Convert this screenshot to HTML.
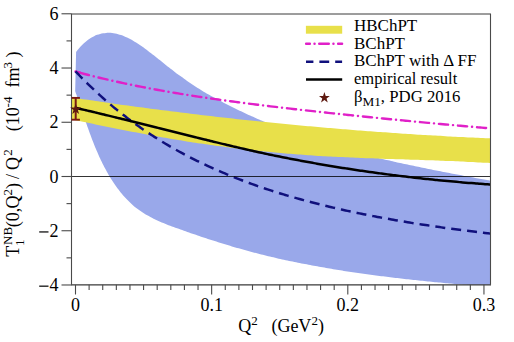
<!DOCTYPE html><html><head><meta charset="utf-8"><style>html,body{margin:0;padding:0;background:#fff;}body{width:514px;height:342px;overflow:hidden;position:relative;font-family:"Liberation Serif",serif;}</style></head><body><svg width="514" height="342" viewBox="0 0 514 342" style="position:absolute;left:0;top:0;font-family:'Liberation Serif',serif;">
<defs><clipPath id="cp"><rect x="71.50" y="13.90" width="419.00" height="270.95"/></clipPath></defs>
<rect x="0" y="0" width="514" height="342" fill="#fff"/>
<g clip-path="url(#cp)">
<path d="M76.10,51.96 C76.60,51.35 78.10,49.45 79.10,48.30 C80.10,47.16 81.10,46.08 82.10,45.08 C83.10,44.07 84.10,43.14 85.10,42.27 C86.10,41.40 87.10,40.60 88.10,39.86 C89.10,39.12 90.10,38.45 91.10,37.83 C92.10,37.22 93.10,36.67 94.10,36.17 C95.10,35.68 96.10,35.24 97.10,34.86 C98.10,34.48 99.10,34.16 100.10,33.89 C101.10,33.62 102.10,33.40 103.10,33.23 C104.10,33.06 105.10,32.95 106.10,32.88 C107.10,32.81 108.10,32.79 109.10,32.82 C110.10,32.84 111.10,32.91 112.10,33.02 C113.10,33.14 114.10,33.29 115.10,33.49 C116.10,33.68 117.10,33.92 118.10,34.19 C119.10,34.46 120.10,34.77 121.10,35.12 C122.10,35.46 123.10,35.84 124.10,36.25 C125.10,36.66 126.10,37.11 127.10,37.58 C128.10,38.05 129.10,38.56 130.10,39.09 C131.10,39.61 132.10,40.17 133.10,40.75 C134.10,41.33 135.10,41.94 136.10,42.56 C137.10,43.19 138.10,43.84 139.10,44.50 C140.10,45.17 141.10,45.85 142.10,46.55 C143.10,47.25 144.10,47.97 145.10,48.70 C146.10,49.43 147.10,50.18 148.10,50.93 C149.10,51.69 150.10,52.46 151.10,53.23 C152.10,54.01 153.10,54.79 154.10,55.58 C155.10,56.37 156.10,57.16 157.10,57.96 C158.10,58.75 159.10,59.56 160.10,60.36 C161.10,61.16 162.10,61.96 163.10,62.76 C164.10,63.56 165.10,64.35 166.10,65.14 C167.10,65.94 168.10,66.72 169.10,67.51 C170.10,68.29 171.10,69.07 172.10,69.84 C173.10,70.61 174.10,71.38 175.10,72.14 C176.10,72.90 177.10,73.65 178.10,74.40 C179.10,75.14 180.10,75.88 181.10,76.61 C182.10,77.34 183.10,78.07 184.10,78.78 C185.10,79.50 186.10,80.20 187.10,80.90 C188.10,81.59 189.10,82.28 190.10,82.96 C191.10,83.63 192.10,84.30 193.10,84.96 C194.10,85.62 195.10,86.27 196.10,86.91 C197.10,87.55 198.10,88.18 199.10,88.81 C200.10,89.43 201.10,90.05 202.10,90.65 C203.10,91.26 204.10,91.86 205.10,92.45 C206.10,93.05 207.10,93.63 208.10,94.21 C209.10,94.79 210.10,95.36 211.10,95.93 C212.10,96.49 213.10,97.05 214.10,97.61 C215.10,98.16 216.10,98.71 217.10,99.25 C218.10,99.79 219.10,100.32 220.10,100.85 C221.10,101.38 222.10,101.91 223.10,102.43 C224.10,102.95 225.10,103.47 226.10,103.98 C227.10,104.49 228.10,104.99 229.10,105.50 C230.10,106.00 231.10,106.50 232.10,107.00 C233.10,107.49 234.10,107.98 235.10,108.47 C236.10,108.96 237.10,109.44 238.10,109.92 C239.10,110.40 240.10,110.88 241.10,111.35 C242.10,111.83 243.10,112.30 244.10,112.76 C245.10,113.23 246.10,113.69 247.10,114.15 C248.10,114.61 249.10,115.07 250.10,115.52 C251.10,115.97 252.10,116.42 253.10,116.87 C254.10,117.31 255.10,117.75 256.10,118.19 C257.10,118.63 258.10,119.07 259.10,119.50 C260.10,119.93 261.10,120.36 262.10,120.78 C263.10,121.21 264.10,121.63 265.10,122.05 C266.10,122.47 267.10,122.89 268.10,123.30 C269.10,123.71 270.10,124.12 271.10,124.53 C272.10,124.93 273.10,125.33 274.10,125.73 C275.10,126.13 276.10,126.53 277.10,126.92 C278.10,127.32 279.10,127.71 280.10,128.10 C281.10,128.48 282.10,128.87 283.10,129.25 C284.10,129.63 285.10,130.01 286.10,130.39 C287.10,130.76 288.10,131.14 289.10,131.51 C290.10,131.88 291.10,132.24 292.10,132.61 C293.10,132.97 294.10,133.33 295.10,133.69 C296.10,134.05 297.10,134.41 298.10,134.76 C299.10,135.11 300.10,135.46 301.10,135.81 C302.10,136.16 303.10,136.50 304.10,136.84 C305.10,137.19 306.10,137.53 307.10,137.86 C308.10,138.20 309.10,138.54 310.10,138.87 C311.10,139.20 312.10,139.53 313.10,139.86 C314.10,140.18 315.10,140.51 316.10,140.83 C317.10,141.15 318.10,141.47 319.10,141.79 C320.10,142.10 321.10,142.42 322.10,142.73 C323.10,143.04 324.10,143.35 325.10,143.66 C326.10,143.97 327.10,144.27 328.10,144.58 C329.10,144.88 330.10,145.18 331.10,145.48 C332.10,145.78 333.10,146.07 334.10,146.37 C335.10,146.66 336.10,146.95 337.10,147.24 C338.10,147.53 339.10,147.82 340.10,148.10 C341.10,148.39 342.10,148.67 343.10,148.95 C344.10,149.23 345.10,149.51 346.10,149.79 C347.10,150.07 348.10,150.34 349.10,150.61 C350.10,150.89 351.10,151.16 352.10,151.43 C353.10,151.70 354.10,151.96 355.10,152.23 C356.10,152.49 357.10,152.76 358.10,153.02 C359.10,153.28 360.10,153.54 361.10,153.80 C362.10,154.06 363.10,154.31 364.10,154.57 C365.10,154.82 366.10,155.07 367.10,155.32 C368.10,155.58 369.10,155.82 370.10,156.07 C371.10,156.32 372.10,156.57 373.10,156.81 C374.10,157.05 375.10,157.30 376.10,157.54 C377.10,157.78 378.10,158.02 379.10,158.26 C380.10,158.49 381.10,158.73 382.10,158.97 C383.10,159.20 384.10,159.43 385.10,159.67 C386.10,159.90 387.10,160.13 388.10,160.36 C389.10,160.59 390.10,160.82 391.10,161.04 C392.10,161.27 393.10,161.49 394.10,161.72 C395.10,161.94 396.10,162.16 397.10,162.38 C398.10,162.61 399.10,162.83 400.10,163.04 C401.10,163.26 402.10,163.48 403.10,163.70 C404.10,163.91 405.10,164.13 406.10,164.34 C407.10,164.56 408.10,164.77 409.10,164.98 C410.10,165.19 411.10,165.41 412.10,165.62 C413.10,165.83 414.10,166.03 415.10,166.24 C416.10,166.45 417.10,166.66 418.10,166.86 C419.10,167.07 420.10,167.27 421.10,167.48 C422.10,167.68 423.10,167.89 424.10,168.09 C425.10,168.29 426.10,168.49 427.10,168.69 C428.10,168.89 429.10,169.09 430.10,169.29 C431.10,169.49 432.10,169.69 433.10,169.89 C434.10,170.08 435.10,170.28 436.10,170.48 C437.10,170.67 438.10,170.87 439.10,171.06 C440.10,171.26 441.10,171.45 442.10,171.65 C443.10,171.84 444.10,172.03 445.10,172.23 C446.10,172.42 447.10,172.61 448.10,172.80 C449.10,172.99 450.10,173.19 451.10,173.38 C452.10,173.57 453.10,173.76 454.10,173.95 C455.10,174.14 456.10,174.33 457.10,174.52 C458.10,174.70 459.10,174.89 460.10,175.08 C461.10,175.27 462.10,175.46 463.10,175.65 C464.10,175.83 465.10,176.02 466.10,176.21 C467.10,176.40 468.10,176.58 469.10,176.77 C470.10,176.96 471.10,177.14 472.10,177.33 C473.10,177.52 474.10,177.70 475.10,177.89 C476.10,178.08 477.10,178.26 478.10,178.45 C479.10,178.63 480.10,178.82 481.10,179.01 C482.10,179.19 483.10,179.38 484.10,179.57 C485.10,179.75 486.10,179.94 487.10,180.12 C488.10,180.31 489.55,180.58 490.10,180.68 C490.65,180.79 490.35,180.73 490.40,180.74 L490.32,286.94 C489.73,286.89 487.95,286.75 486.76,286.65 C485.57,286.55 484.38,286.45 483.20,286.35 C482.01,286.26 480.82,286.16 479.63,286.06 C478.44,285.96 477.25,285.86 476.06,285.76 C474.88,285.66 473.69,285.56 472.50,285.45 C471.31,285.35 470.12,285.25 468.93,285.15 C467.74,285.05 466.55,284.94 465.36,284.84 C464.17,284.74 462.98,284.63 461.79,284.53 C460.60,284.42 459.40,284.32 458.21,284.21 C457.02,284.11 455.83,284.00 454.64,283.89 C453.45,283.78 452.26,283.68 451.06,283.57 C449.87,283.46 448.68,283.35 447.49,283.24 C446.30,283.13 445.11,283.02 443.91,282.91 C442.72,282.80 441.53,282.68 440.34,282.57 C439.14,282.46 437.95,282.34 436.76,282.23 C435.57,282.11 434.37,282.00 433.18,281.88 C431.99,281.77 430.80,281.65 429.60,281.53 C428.41,281.41 427.22,281.29 426.03,281.17 C424.83,281.05 423.64,280.93 422.45,280.81 C421.25,280.68 420.06,280.56 418.87,280.44 C417.68,280.31 416.48,280.19 415.29,280.06 C414.10,279.93 412.90,279.81 411.71,279.68 C410.52,279.55 409.33,279.42 408.13,279.29 C406.94,279.16 405.75,279.03 404.56,278.89 C403.36,278.76 402.17,278.62 400.98,278.49 C399.79,278.35 398.60,278.22 397.40,278.08 C396.21,277.94 395.02,277.80 393.83,277.66 C392.64,277.52 391.45,277.38 390.25,277.23 C389.06,277.09 387.87,276.95 386.68,276.80 C385.49,276.65 384.30,276.51 383.11,276.36 C381.92,276.21 380.73,276.06 379.54,275.91 C378.35,275.75 377.16,275.60 375.97,275.45 C374.78,275.29 373.59,275.14 372.40,274.98 C371.21,274.82 370.02,274.66 368.83,274.50 C367.64,274.34 366.45,274.18 365.26,274.01 C364.07,273.85 362.89,273.68 361.70,273.52 C360.51,273.35 359.32,273.18 358.13,273.01 C356.95,272.84 355.76,272.67 354.57,272.49 C353.39,272.32 352.20,272.14 351.01,271.97 C349.83,271.79 348.64,271.61 347.46,271.43 C346.27,271.25 345.09,271.07 343.90,270.88 C342.72,270.70 341.53,270.51 340.35,270.32 C339.17,270.13 337.98,269.94 336.80,269.75 C335.62,269.56 334.43,269.37 333.25,269.17 C332.07,268.98 330.89,268.78 329.71,268.58 C328.52,268.38 327.34,268.18 326.16,267.97 C324.98,267.77 323.80,267.56 322.62,267.36 C321.44,267.15 320.26,266.94 319.08,266.73 C317.91,266.52 316.73,266.30 315.55,266.09 C314.37,265.87 313.20,265.65 312.02,265.43 C310.84,265.21 309.67,264.99 308.49,264.77 C307.32,264.54 306.14,264.31 304.97,264.09 C303.79,263.86 302.62,263.63 301.44,263.39 C300.27,263.16 299.10,262.92 297.93,262.68 C296.75,262.45 295.58,262.21 294.41,261.96 C293.24,261.72 292.07,261.48 290.90,261.23 C289.73,260.98 288.56,260.73 287.39,260.48 C286.22,260.23 285.06,259.97 283.89,259.72 C282.72,259.46 281.55,259.20 280.39,258.94 C279.22,258.68 278.06,258.41 276.89,258.14 C275.73,257.88 274.56,257.61 273.40,257.34 C272.24,257.06 271.08,256.79 269.91,256.51 C268.75,256.24 267.59,255.96 266.43,255.67 C265.27,255.39 264.11,255.11 262.95,254.82 C261.79,254.53 260.64,254.24 259.48,253.95 C258.32,253.65 257.17,253.36 256.01,253.06 C254.85,252.76 253.70,252.46 252.55,252.16 C251.39,251.85 250.24,251.55 249.09,251.24 C247.93,250.93 246.78,250.61 245.63,250.30 C244.48,249.98 243.33,249.67 242.18,249.34 C241.03,249.02 239.88,248.70 238.74,248.37 C237.59,248.05 236.44,247.72 235.30,247.38 C234.15,247.05 233.01,246.72 231.86,246.38 C230.72,246.04 229.57,245.70 228.43,245.36 C227.29,245.01 226.14,244.67 225.00,244.32 C223.86,243.97 222.72,243.62 221.58,243.26 C220.43,242.91 219.29,242.55 218.15,242.20 C217.01,241.84 215.87,241.47 214.73,241.11 C213.59,240.75 212.45,240.38 211.31,240.01 C210.17,239.64 209.03,239.27 207.89,238.90 C206.75,238.53 205.61,238.15 204.47,237.77 C203.33,237.39 202.19,237.01 201.05,236.63 C199.91,236.25 198.77,235.86 197.63,235.48 C196.49,235.09 195.35,234.70 194.21,234.31 C193.07,233.92 191.93,233.53 190.78,233.13 C189.64,232.74 188.50,232.34 187.36,231.94 C186.22,231.54 185.07,231.14 183.93,230.74 C182.79,230.33 181.64,229.93 180.50,229.52 C179.35,229.11 178.21,228.71 177.06,228.29 C175.92,227.88 174.77,227.47 173.63,227.05 C172.49,226.63 171.35,226.21 170.21,225.78 C169.07,225.35 167.94,224.91 166.81,224.47 C165.68,224.02 164.55,223.57 163.43,223.11 C162.31,222.65 161.20,222.19 160.09,221.71 C158.99,221.23 157.89,220.74 156.79,220.23 C155.70,219.73 154.62,219.22 153.55,218.69 C152.48,218.16 151.41,217.62 150.36,217.06 C149.31,216.51 148.27,215.94 147.24,215.35 C146.22,214.76 145.20,214.16 144.20,213.53 C143.20,212.91 142.21,212.27 141.24,211.61 C140.27,210.95 139.31,210.27 138.37,209.57 C137.43,208.87 136.50,208.15 135.59,207.42 C134.68,206.68 133.78,205.93 132.90,205.16 C132.02,204.39 131.15,203.60 130.29,202.79 C129.44,201.99 128.60,201.17 127.77,200.33 C126.95,199.50 126.13,198.65 125.33,197.78 C124.53,196.91 123.75,196.03 122.97,195.14 C122.20,194.24 121.44,193.34 120.69,192.42 C119.94,191.49 119.21,190.56 118.49,189.61 C117.76,188.67 117.05,187.71 116.36,186.74 C115.66,185.77 114.97,184.79 114.30,183.80 C113.62,182.81 112.96,181.81 112.30,180.80 C111.65,179.79 111.01,178.77 110.38,177.75 C109.75,176.72 109.13,175.68 108.52,174.64 C107.91,173.59 107.32,172.54 106.73,171.48 C106.14,170.42 105.56,169.36 104.99,168.29 C104.43,167.22 103.87,166.14 103.32,165.05 C102.77,163.97 102.23,162.88 101.70,161.79 C101.17,160.70 100.65,159.60 100.14,158.51 C99.62,157.41 99.12,156.30 98.63,155.20 C98.13,154.09 97.64,152.98 97.17,151.87 C96.69,150.76 96.22,149.65 95.75,148.54 C95.29,147.42 94.83,146.31 94.38,145.19 C93.93,144.07 93.49,142.95 93.05,141.83 C92.61,140.71 92.18,139.58 91.75,138.46 C91.33,137.33 90.91,136.21 90.49,135.08 C90.07,133.95 89.66,132.83 89.25,131.70 C88.84,130.57 88.44,129.44 88.04,128.31 C87.64,127.18 87.24,126.05 86.85,124.92 C86.45,123.79 86.06,122.66 85.67,121.53 C85.28,120.40 84.89,119.27 84.51,118.14 C84.12,117.01 83.73,115.88 83.35,114.75 C82.97,113.62 82.58,112.49 82.20,111.36 C81.82,110.24 81.43,109.11 81.05,107.98 C80.67,106.86 80.28,105.73 79.90,104.61 C79.51,103.48 79.13,102.36 78.74,101.24 C78.35,100.12 77.96,99.00 77.57,97.88 C77.18,96.77 76.79,95.65 76.39,94.54 C75.99,93.42 75.39,91.76 75.19,91.20 Z" fill="#99a8ea"/>
<path d="M70.50,97.37 C71.33,97.50 73.83,97.87 75.50,98.13 C77.17,98.38 78.83,98.63 80.50,98.87 C82.17,99.12 83.83,99.37 85.50,99.62 C87.17,99.86 88.83,100.11 90.50,100.35 C92.17,100.60 93.83,100.84 95.50,101.08 C97.17,101.32 98.83,101.56 100.50,101.80 C102.17,102.04 103.83,102.28 105.50,102.52 C107.17,102.76 108.83,102.99 110.50,103.23 C112.17,103.46 113.83,103.70 115.50,103.93 C117.17,104.17 118.83,104.40 120.50,104.63 C122.17,104.86 123.83,105.09 125.50,105.32 C127.17,105.55 128.83,105.78 130.50,106.00 C132.17,106.23 133.83,106.46 135.50,106.68 C137.17,106.91 138.83,107.13 140.50,107.35 C142.17,107.58 143.83,107.80 145.50,108.02 C147.17,108.24 148.83,108.46 150.50,108.68 C152.17,108.89 153.83,109.11 155.50,109.33 C157.17,109.54 158.83,109.76 160.50,109.97 C162.17,110.19 163.83,110.40 165.50,110.61 C167.17,110.82 168.83,111.04 170.50,111.25 C172.17,111.46 173.83,111.66 175.50,111.87 C177.17,112.08 178.83,112.29 180.50,112.49 C182.17,112.70 183.83,112.90 185.50,113.10 C187.17,113.31 188.83,113.51 190.50,113.71 C192.17,113.91 193.83,114.11 195.50,114.31 C197.17,114.51 198.83,114.71 200.50,114.91 C202.17,115.10 203.83,115.30 205.50,115.49 C207.17,115.69 208.83,115.88 210.50,116.08 C212.17,116.27 213.83,116.46 215.50,116.65 C217.17,116.84 218.83,117.03 220.50,117.22 C222.17,117.41 223.83,117.59 225.50,117.78 C227.17,117.97 228.83,118.15 230.50,118.34 C232.17,118.52 233.83,118.70 235.50,118.89 C237.17,119.07 238.83,119.25 240.50,119.43 C242.17,119.61 243.83,119.79 245.50,119.96 C247.17,120.14 248.83,120.32 250.50,120.49 C252.17,120.67 253.83,120.84 255.50,121.02 C257.17,121.19 258.83,121.36 260.50,121.54 C262.17,121.71 263.83,121.88 265.50,122.05 C267.17,122.21 268.83,122.38 270.50,122.55 C272.17,122.72 273.83,122.88 275.50,123.05 C277.17,123.21 278.83,123.38 280.50,123.54 C282.17,123.70 283.83,123.86 285.50,124.02 C287.17,124.18 288.83,124.34 290.50,124.50 C292.17,124.66 293.83,124.82 295.50,124.97 C297.17,125.13 298.83,125.29 300.50,125.44 C302.17,125.59 303.83,125.75 305.50,125.90 C307.17,126.05 308.83,126.20 310.50,126.35 C312.17,126.50 313.83,126.65 315.50,126.80 C317.17,126.95 318.83,127.09 320.50,127.24 C322.17,127.38 323.83,127.53 325.50,127.67 C327.17,127.82 328.83,127.96 330.50,128.10 C332.17,128.24 333.83,128.38 335.50,128.52 C337.17,128.66 338.83,128.80 340.50,128.93 C342.17,129.07 343.83,129.21 345.50,129.34 C347.17,129.48 348.83,129.61 350.50,129.74 C352.17,129.88 353.83,130.01 355.50,130.14 C357.17,130.27 358.83,130.40 360.50,130.53 C362.17,130.66 363.83,130.78 365.50,130.91 C367.17,131.04 368.83,131.16 370.50,131.28 C372.17,131.41 373.83,131.53 375.50,131.65 C377.17,131.78 378.83,131.90 380.50,132.02 C382.17,132.14 383.83,132.26 385.50,132.37 C387.17,132.49 388.83,132.61 390.50,132.72 C392.17,132.84 393.83,132.95 395.50,133.07 C397.17,133.18 398.83,133.29 400.50,133.40 C402.17,133.52 403.83,133.63 405.50,133.73 C407.17,133.84 408.83,133.95 410.50,134.06 C412.17,134.17 413.83,134.27 415.50,134.38 C417.17,134.48 418.83,134.59 420.50,134.69 C422.17,134.79 423.83,134.89 425.50,134.99 C427.17,135.09 428.83,135.19 430.50,135.29 C432.17,135.39 433.83,135.49 435.50,135.58 C437.17,135.68 438.83,135.78 440.50,135.87 C442.17,135.96 443.83,136.06 445.50,136.15 C447.17,136.24 448.83,136.33 450.50,136.42 C452.17,136.51 453.83,136.60 455.50,136.69 C457.17,136.78 458.83,136.86 460.50,136.95 C462.17,137.03 463.83,137.12 465.50,137.20 C467.17,137.29 468.83,137.37 470.50,137.45 C472.17,137.53 473.83,137.61 475.50,137.69 C477.17,137.77 478.83,137.85 480.50,137.93 C482.17,138.00 483.85,138.08 485.50,138.15 C487.15,138.23 489.58,138.33 490.40,138.37 L490.40,163.19 C489.58,163.13 487.15,162.97 485.50,162.86 C483.85,162.76 482.17,162.65 480.50,162.55 C478.83,162.45 477.17,162.36 475.50,162.26 C473.83,162.17 472.17,162.08 470.50,162.00 C468.83,161.91 467.17,161.82 465.50,161.74 C463.83,161.66 462.17,161.58 460.50,161.51 C458.83,161.43 457.17,161.36 455.50,161.28 C453.83,161.21 452.17,161.14 450.50,161.08 C448.83,161.01 447.17,160.94 445.50,160.88 C443.83,160.81 442.17,160.75 440.50,160.69 C438.83,160.63 437.17,160.57 435.50,160.51 C433.83,160.45 432.17,160.39 430.50,160.33 C428.83,160.28 427.17,160.22 425.50,160.17 C423.83,160.11 422.17,160.06 420.50,160.00 C418.83,159.95 417.17,159.90 415.50,159.84 C413.83,159.79 412.17,159.74 410.50,159.69 C408.83,159.63 407.17,159.58 405.50,159.53 C403.83,159.48 402.17,159.42 400.50,159.37 C398.83,159.32 397.17,159.26 395.50,159.21 C393.83,159.16 392.17,159.10 390.50,159.05 C388.83,158.99 387.17,158.94 385.50,158.88 C383.83,158.82 382.17,158.77 380.50,158.71 C378.83,158.65 377.17,158.59 375.50,158.53 C373.83,158.47 372.17,158.41 370.50,158.35 C368.83,158.28 367.17,158.22 365.50,158.16 C363.83,158.09 362.17,158.02 360.50,157.95 C358.83,157.89 357.17,157.82 355.50,157.74 C353.83,157.67 352.17,157.60 350.50,157.52 C348.83,157.45 347.17,157.37 345.50,157.29 C343.83,157.21 342.17,157.13 340.50,157.05 C338.83,156.97 337.17,156.88 335.50,156.79 C333.83,156.71 332.17,156.62 330.50,156.53 C328.83,156.43 327.17,156.34 325.50,156.24 C323.83,156.15 322.17,156.05 320.50,155.95 C318.83,155.84 317.17,155.74 315.50,155.63 C313.83,155.53 312.17,155.42 310.50,155.30 C308.83,155.19 307.17,155.08 305.50,154.96 C303.83,154.84 302.17,154.72 300.50,154.60 C298.83,154.48 297.17,154.35 295.50,154.22 C293.83,154.09 292.17,153.96 290.50,153.83 C288.83,153.69 287.17,153.55 285.50,153.41 C283.83,153.27 282.17,153.13 280.50,152.98 C278.83,152.84 277.17,152.69 275.50,152.53 C273.83,152.38 272.17,152.22 270.50,152.07 C268.83,151.91 267.17,151.74 265.50,151.58 C263.83,151.41 262.17,151.24 260.50,151.07 C258.83,150.90 257.17,150.73 255.50,150.55 C253.83,150.37 252.17,150.19 250.50,150.00 C248.83,149.82 247.17,149.63 245.50,149.44 C243.83,149.25 242.17,149.05 240.50,148.85 C238.83,148.66 237.17,148.45 235.50,148.25 C233.83,148.05 232.17,147.84 230.50,147.63 C228.83,147.42 227.17,147.20 225.50,146.98 C223.83,146.77 222.17,146.55 220.50,146.32 C218.83,146.10 217.17,145.87 215.50,145.64 C213.83,145.41 212.17,145.18 210.50,144.94 C208.83,144.70 207.17,144.46 205.50,144.22 C203.83,143.98 202.17,143.73 200.50,143.48 C198.83,143.23 197.17,142.98 195.50,142.72 C193.83,142.47 192.17,142.21 190.50,141.95 C188.83,141.69 187.17,141.42 185.50,141.16 C183.83,140.89 182.17,140.62 180.50,140.35 C178.83,140.07 177.17,139.80 175.50,139.52 C173.83,139.24 172.17,138.96 170.50,138.67 C168.83,138.39 167.17,138.10 165.50,137.81 C163.83,137.52 162.17,137.23 160.50,136.94 C158.83,136.64 157.17,136.34 155.50,136.05 C153.83,135.75 152.17,135.44 150.50,135.14 C148.83,134.83 147.17,134.53 145.50,134.22 C143.83,133.91 142.17,133.60 140.50,133.28 C138.83,132.97 137.17,132.66 135.50,132.34 C133.83,132.02 132.17,131.70 130.50,131.38 C128.83,131.06 127.17,130.73 125.50,130.41 C123.83,130.08 122.17,129.76 120.50,129.43 C118.83,129.10 117.17,128.77 115.50,128.44 C113.83,128.11 112.17,127.77 110.50,127.44 C108.83,127.11 107.17,126.77 105.50,126.43 C103.83,126.10 102.17,125.76 100.50,125.42 C98.83,125.08 97.17,124.74 95.50,124.40 C93.83,124.06 92.17,123.72 90.50,123.37 C88.83,123.03 87.17,122.69 85.50,122.34 C83.83,122.00 82.17,121.65 80.50,121.31 C78.83,120.97 77.17,120.62 75.50,120.28 C73.83,119.93 71.33,119.41 70.50,119.24 Z" fill="#e8e04a"/>
<path d="M75.50,71.58 C76.33,71.80 78.83,72.48 80.50,72.92 C82.17,73.37 83.83,73.80 85.50,74.23 C87.17,74.67 88.83,75.09 90.50,75.51 C92.17,75.93 93.83,76.35 95.50,76.76 C97.17,77.17 98.83,77.57 100.50,77.97 C102.17,78.37 103.83,78.76 105.50,79.15 C107.17,79.54 108.83,79.92 110.50,80.30 C112.17,80.68 113.83,81.06 115.50,81.43 C117.17,81.80 118.83,82.16 120.50,82.52 C122.17,82.88 123.83,83.24 125.50,83.59 C127.17,83.94 128.83,84.29 130.50,84.64 C132.17,84.98 133.83,85.32 135.50,85.65 C137.17,85.99 138.83,86.32 140.50,86.65 C142.17,86.97 143.83,87.30 145.50,87.62 C147.17,87.94 148.83,88.25 150.50,88.56 C152.17,88.88 153.83,89.18 155.50,89.49 C157.17,89.79 158.83,90.10 160.50,90.39 C162.17,90.69 163.83,90.99 165.50,91.28 C167.17,91.57 168.83,91.86 170.50,92.14 C172.17,92.43 173.83,92.71 175.50,92.99 C177.17,93.27 178.83,93.54 180.50,93.81 C182.17,94.09 183.83,94.36 185.50,94.62 C187.17,94.89 188.83,95.16 190.50,95.42 C192.17,95.68 193.83,95.94 195.50,96.19 C197.17,96.45 198.83,96.70 200.50,96.96 C202.17,97.21 203.83,97.46 205.50,97.70 C207.17,97.95 208.83,98.19 210.50,98.44 C212.17,98.68 213.83,98.92 215.50,99.15 C217.17,99.39 218.83,99.63 220.50,99.86 C222.17,100.09 223.83,100.33 225.50,100.55 C227.17,100.78 228.83,101.01 230.50,101.24 C232.17,101.46 233.83,101.68 235.50,101.91 C237.17,102.13 238.83,102.35 240.50,102.57 C242.17,102.78 243.83,103.00 245.50,103.22 C247.17,103.43 248.83,103.64 250.50,103.86 C252.17,104.07 253.83,104.28 255.50,104.49 C257.17,104.69 258.83,104.90 260.50,105.11 C262.17,105.31 263.83,105.52 265.50,105.72 C267.17,105.92 268.83,106.12 270.50,106.32 C272.17,106.52 273.83,106.72 275.50,106.92 C277.17,107.12 278.83,107.32 280.50,107.51 C282.17,107.71 283.83,107.90 285.50,108.09 C287.17,108.29 288.83,108.48 290.50,108.67 C292.17,108.86 293.83,109.05 295.50,109.24 C297.17,109.43 298.83,109.62 300.50,109.81 C302.17,109.99 303.83,110.18 305.50,110.36 C307.17,110.55 308.83,110.73 310.50,110.92 C312.17,111.10 313.83,111.28 315.50,111.47 C317.17,111.65 318.83,111.83 320.50,112.01 C322.17,112.19 323.83,112.37 325.50,112.55 C327.17,112.73 328.83,112.91 330.50,113.08 C332.17,113.26 333.83,113.44 335.50,113.61 C337.17,113.79 338.83,113.97 340.50,114.14 C342.17,114.32 343.83,114.49 345.50,114.66 C347.17,114.84 348.83,115.01 350.50,115.18 C352.17,115.36 353.83,115.53 355.50,115.70 C357.17,115.87 358.83,116.04 360.50,116.21 C362.17,116.38 363.83,116.55 365.50,116.72 C367.17,116.89 368.83,117.06 370.50,117.23 C372.17,117.39 373.83,117.56 375.50,117.73 C377.17,117.90 378.83,118.06 380.50,118.23 C382.17,118.40 383.83,118.56 385.50,118.73 C387.17,118.89 388.83,119.06 390.50,119.22 C392.17,119.39 393.83,119.55 395.50,119.71 C397.17,119.88 398.83,120.04 400.50,120.20 C402.17,120.36 403.83,120.52 405.50,120.69 C407.17,120.85 408.83,121.01 410.50,121.17 C412.17,121.33 413.83,121.49 415.50,121.65 C417.17,121.81 418.83,121.96 420.50,122.12 C422.17,122.28 423.83,122.44 425.50,122.59 C427.17,122.75 428.83,122.91 430.50,123.06 C432.17,123.22 433.83,123.37 435.50,123.53 C437.17,123.68 438.83,123.84 440.50,123.99 C442.17,124.14 443.83,124.30 445.50,124.45 C447.17,124.60 448.83,124.75 450.50,124.90 C452.17,125.05 453.83,125.20 455.50,125.35 C457.17,125.50 458.83,125.65 460.50,125.80 C462.17,125.94 463.83,126.09 465.50,126.24 C467.17,126.38 468.83,126.53 470.50,126.67 C472.17,126.82 473.83,126.96 475.50,127.10 C477.17,127.25 478.83,127.39 480.50,127.53 C482.17,127.67 483.85,127.81 485.50,127.95 C487.15,128.09 489.58,128.29 490.40,128.35 " fill="none" stroke="#e020c8" stroke-width="2.4" stroke-linecap="round" stroke-dasharray="9.2 4.9 0.1 4.9" stroke-dashoffset="-4.7"/>
<line x1="75.5" y1="71.4" x2="80.2" y2="72.75" stroke="#e020c8" stroke-width="2.4" stroke-linecap="round"/>
<path d="M75.50,71.30 C76.17,72.00 78.17,74.12 79.50,75.50 C80.83,76.88 82.17,78.24 83.50,79.59 C84.83,80.93 86.17,82.26 87.50,83.57 C88.83,84.88 90.17,86.17 91.50,87.44 C92.83,88.72 94.17,89.98 95.50,91.22 C96.83,92.46 98.17,93.69 99.50,94.90 C100.83,96.11 102.17,97.30 103.50,98.48 C104.83,99.66 106.17,100.83 107.50,101.98 C108.83,103.12 110.17,104.26 111.50,105.38 C112.83,106.50 114.17,107.60 115.50,108.69 C116.83,109.78 118.17,110.86 119.50,111.92 C120.83,112.98 122.17,114.03 123.50,115.07 C124.83,116.11 126.17,117.13 127.50,118.14 C128.83,119.15 130.17,120.14 131.50,121.13 C132.83,122.11 134.17,123.09 135.50,124.05 C136.83,125.01 138.17,125.95 139.50,126.89 C140.83,127.82 142.17,128.75 143.50,129.66 C144.83,130.57 146.17,131.47 147.50,132.36 C148.83,133.25 150.17,134.13 151.50,135.00 C152.83,135.87 154.17,136.72 155.50,137.57 C156.83,138.42 158.17,139.25 159.50,140.08 C160.83,140.90 162.17,141.72 163.50,142.52 C164.83,143.33 166.17,144.13 167.50,144.91 C168.83,145.70 170.17,146.47 171.50,147.24 C172.83,148.01 174.17,148.76 175.50,149.51 C176.83,150.26 178.17,151.00 179.50,151.73 C180.83,152.46 182.17,153.18 183.50,153.90 C184.83,154.61 186.17,155.31 187.50,156.01 C188.83,156.70 190.17,157.39 191.50,158.07 C192.83,158.75 194.17,159.42 195.50,160.08 C196.83,160.75 198.17,161.40 199.50,162.05 C200.83,162.70 202.17,163.34 203.50,163.97 C204.83,164.60 206.17,165.23 207.50,165.85 C208.83,166.46 210.17,167.08 211.50,167.68 C212.83,168.28 214.17,168.88 215.50,169.47 C216.83,170.06 218.17,170.64 219.50,171.22 C220.83,171.79 222.17,172.36 223.50,172.92 C224.83,173.49 226.17,174.04 227.50,174.59 C228.83,175.14 230.17,175.69 231.50,176.22 C232.83,176.76 234.17,177.29 235.50,177.82 C236.83,178.34 238.17,178.86 239.50,179.38 C240.83,179.89 242.17,180.40 243.50,180.90 C244.83,181.40 246.17,181.90 247.50,182.39 C248.83,182.88 250.17,183.37 251.50,183.85 C252.83,184.33 254.17,184.80 255.50,185.27 C256.83,185.74 258.17,186.20 259.50,186.66 C260.83,187.12 262.17,187.58 263.50,188.03 C264.83,188.47 266.17,188.92 267.50,189.36 C268.83,189.80 270.17,190.23 271.50,190.66 C272.83,191.09 274.17,191.52 275.50,191.94 C276.83,192.36 278.17,192.77 279.50,193.19 C280.83,193.60 282.17,194.01 283.50,194.41 C284.83,194.81 286.17,195.21 287.50,195.60 C288.83,196.00 290.17,196.39 291.50,196.78 C292.83,197.16 294.17,197.54 295.50,197.92 C296.83,198.30 298.17,198.67 299.50,199.04 C300.83,199.41 302.17,199.78 303.50,200.14 C304.83,200.51 306.17,200.86 307.50,201.22 C308.83,201.57 310.17,201.93 311.50,202.27 C312.83,202.62 314.17,202.96 315.50,203.31 C316.83,203.65 318.17,203.98 319.50,204.32 C320.83,204.65 322.17,204.98 323.50,205.31 C324.83,205.64 326.17,205.96 327.50,206.28 C328.83,206.60 330.17,206.92 331.50,207.23 C332.83,207.55 334.17,207.86 335.50,208.16 C336.83,208.47 338.17,208.78 339.50,209.08 C340.83,209.38 342.17,209.68 343.50,209.98 C344.83,210.27 346.17,210.56 347.50,210.85 C348.83,211.14 350.17,211.43 351.50,211.72 C352.83,212.00 354.17,212.28 355.50,212.56 C356.83,212.84 358.17,213.12 359.50,213.39 C360.83,213.66 362.17,213.93 363.50,214.20 C364.83,214.47 366.17,214.74 367.50,215.00 C368.83,215.26 370.17,215.52 371.50,215.78 C372.83,216.04 374.17,216.30 375.50,216.55 C376.83,216.80 378.17,217.06 379.50,217.30 C380.83,217.55 382.17,217.80 383.50,218.04 C384.83,218.29 386.17,218.53 387.50,218.77 C388.83,219.01 390.17,219.25 391.50,219.48 C392.83,219.72 394.17,219.95 395.50,220.18 C396.83,220.41 398.17,220.64 399.50,220.87 C400.83,221.10 402.17,221.32 403.50,221.54 C404.83,221.77 406.17,221.99 407.50,222.20 C408.83,222.42 410.17,222.64 411.50,222.86 C412.83,223.07 414.17,223.28 415.50,223.49 C416.83,223.70 418.17,223.91 419.50,224.12 C420.83,224.33 422.17,224.53 423.50,224.74 C424.83,224.94 426.17,225.14 427.50,225.34 C428.83,225.54 430.17,225.74 431.50,225.94 C432.83,226.14 434.17,226.33 435.50,226.52 C436.83,226.72 438.17,226.91 439.50,227.10 C440.83,227.29 442.17,227.48 443.50,227.66 C444.83,227.85 446.17,228.04 447.50,228.22 C448.83,228.40 450.17,228.58 451.50,228.77 C452.83,228.95 454.17,229.12 455.50,229.30 C456.83,229.48 458.17,229.66 459.50,229.83 C460.83,230.00 462.17,230.18 463.50,230.35 C464.83,230.52 466.17,230.69 467.50,230.86 C468.83,231.03 470.17,231.20 471.50,231.36 C472.83,231.53 474.17,231.69 475.50,231.86 C476.83,232.02 478.17,232.18 479.50,232.34 C480.83,232.50 482.17,232.66 483.50,232.82 C484.83,232.98 486.35,233.16 487.50,233.29 C488.65,233.42 489.92,233.57 490.40,233.63 " fill="none" stroke="#10107c" stroke-width="2.5" stroke-dasharray="10 6" stroke-dashoffset="0"/>
<path d="M75.50,107.79 C76.00,107.91 77.50,108.25 78.50,108.49 C79.50,108.72 80.50,108.95 81.50,109.19 C82.50,109.42 83.50,109.66 84.50,109.90 C85.50,110.13 86.50,110.37 87.50,110.60 C88.50,110.84 89.50,111.08 90.50,111.32 C91.50,111.55 92.50,111.79 93.50,112.03 C94.50,112.27 95.50,112.51 96.50,112.75 C97.50,112.99 98.50,113.23 99.50,113.47 C100.50,113.71 101.50,113.95 102.50,114.19 C103.50,114.43 104.50,114.68 105.50,114.92 C106.50,115.16 107.50,115.40 108.50,115.65 C109.50,115.89 110.50,116.13 111.50,116.38 C112.50,116.62 113.50,116.86 114.50,117.11 C115.50,117.35 116.50,117.60 117.50,117.84 C118.50,118.09 119.50,118.33 120.50,118.58 C121.50,118.83 122.50,119.07 123.50,119.32 C124.50,119.56 125.50,119.81 126.50,120.06 C127.50,120.30 128.50,120.55 129.50,120.80 C130.50,121.05 131.50,121.29 132.50,121.54 C133.50,121.79 134.50,122.04 135.50,122.28 C136.50,122.53 137.50,122.78 138.50,123.03 C139.50,123.28 140.50,123.53 141.50,123.78 C142.50,124.02 143.50,124.27 144.50,124.52 C145.50,124.77 146.50,125.02 147.50,125.27 C148.50,125.52 149.50,125.77 150.50,126.02 C151.50,126.27 152.50,126.52 153.50,126.77 C154.50,127.02 155.50,127.27 156.50,127.52 C157.50,127.77 158.50,128.02 159.50,128.27 C160.50,128.52 161.50,128.77 162.50,129.02 C163.50,129.27 164.50,129.52 165.50,129.77 C166.50,130.02 167.50,130.27 168.50,130.52 C169.50,130.77 170.50,131.02 171.50,131.27 C172.50,131.52 173.50,131.77 174.50,132.01 C175.50,132.26 176.50,132.51 177.50,132.76 C178.50,133.01 179.50,133.26 180.50,133.51 C181.50,133.76 182.50,134.01 183.50,134.26 C184.50,134.51 185.50,134.76 186.50,135.01 C187.50,135.25 188.50,135.50 189.50,135.75 C190.50,136.00 191.50,136.25 192.50,136.50 C193.50,136.74 194.50,136.99 195.50,137.24 C196.50,137.49 197.50,137.73 198.50,137.98 C199.50,138.23 200.50,138.48 201.50,138.72 C202.50,138.97 203.50,139.22 204.50,139.46 C205.50,139.71 206.50,139.95 207.50,140.20 C208.50,140.44 209.50,140.69 210.50,140.93 C211.50,141.18 212.50,141.42 213.50,141.67 C214.50,141.91 215.50,142.15 216.50,142.40 C217.50,142.64 218.50,142.88 219.50,143.12 C220.50,143.36 221.50,143.60 222.50,143.85 C223.50,144.09 224.50,144.33 225.50,144.56 C226.50,144.80 227.50,145.04 228.50,145.28 C229.50,145.52 230.50,145.76 231.50,145.99 C232.50,146.23 233.50,146.46 234.50,146.70 C235.50,146.93 236.50,147.17 237.50,147.40 C238.50,147.63 239.50,147.87 240.50,148.10 C241.50,148.33 242.50,148.56 243.50,148.79 C244.50,149.02 245.50,149.25 246.50,149.48 C247.50,149.70 248.50,149.93 249.50,150.16 C250.50,150.38 251.50,150.61 252.50,150.83 C253.50,151.05 254.50,151.28 255.50,151.50 C256.50,151.72 257.50,151.94 258.50,152.16 C259.50,152.38 260.50,152.59 261.50,152.81 C262.50,153.03 263.50,153.24 264.50,153.46 C265.50,153.67 266.50,153.88 267.50,154.10 C268.50,154.31 269.50,154.52 270.50,154.73 C271.50,154.94 272.50,155.14 273.50,155.35 C274.50,155.56 275.50,155.76 276.50,155.97 C277.50,156.17 278.50,156.38 279.50,156.58 C280.50,156.78 281.50,156.98 282.50,157.18 C283.50,157.38 284.50,157.58 285.50,157.78 C286.50,157.98 287.50,158.17 288.50,158.37 C289.50,158.56 290.50,158.76 291.50,158.95 C292.50,159.14 293.50,159.34 294.50,159.53 C295.50,159.72 296.50,159.91 297.50,160.10 C298.50,160.28 299.50,160.47 300.50,160.66 C301.50,160.85 302.50,161.03 303.50,161.22 C304.50,161.40 305.50,161.58 306.50,161.77 C307.50,161.95 308.50,162.13 309.50,162.31 C310.50,162.49 311.50,162.67 312.50,162.85 C313.50,163.03 314.50,163.20 315.50,163.38 C316.50,163.56 317.50,163.73 318.50,163.91 C319.50,164.08 320.50,164.25 321.50,164.43 C322.50,164.60 323.50,164.77 324.50,164.94 C325.50,165.11 326.50,165.28 327.50,165.45 C328.50,165.61 329.50,165.78 330.50,165.95 C331.50,166.11 332.50,166.28 333.50,166.44 C334.50,166.61 335.50,166.77 336.50,166.93 C337.50,167.10 338.50,167.26 339.50,167.42 C340.50,167.58 341.50,167.74 342.50,167.90 C343.50,168.05 344.50,168.21 345.50,168.37 C346.50,168.52 347.50,168.68 348.50,168.83 C349.50,168.99 350.50,169.14 351.50,169.29 C352.50,169.45 353.50,169.60 354.50,169.75 C355.50,169.90 356.50,170.05 357.50,170.20 C358.50,170.35 359.50,170.49 360.50,170.64 C361.50,170.79 362.50,170.93 363.50,171.08 C364.50,171.22 365.50,171.37 366.50,171.51 C367.50,171.65 368.50,171.79 369.50,171.94 C370.50,172.08 371.50,172.22 372.50,172.36 C373.50,172.49 374.50,172.63 375.50,172.77 C376.50,172.91 377.50,173.04 378.50,173.18 C379.50,173.31 380.50,173.45 381.50,173.58 C382.50,173.71 383.50,173.85 384.50,173.98 C385.50,174.11 386.50,174.24 387.50,174.37 C388.50,174.50 389.50,174.63 390.50,174.76 C391.50,174.88 392.50,175.01 393.50,175.14 C394.50,175.26 395.50,175.39 396.50,175.51 C397.50,175.64 398.50,175.76 399.50,175.88 C400.50,176.00 401.50,176.12 402.50,176.24 C403.50,176.36 404.50,176.48 405.50,176.60 C406.50,176.72 407.50,176.84 408.50,176.96 C409.50,177.07 410.50,177.19 411.50,177.30 C412.50,177.42 413.50,177.53 414.50,177.64 C415.50,177.76 416.50,177.87 417.50,177.98 C418.50,178.09 419.50,178.20 420.50,178.31 C421.50,178.42 422.50,178.53 423.50,178.64 C424.50,178.74 425.50,178.85 426.50,178.96 C427.50,179.06 428.50,179.17 429.50,179.27 C430.50,179.38 431.50,179.48 432.50,179.58 C433.50,179.68 434.50,179.78 435.50,179.89 C436.50,179.99 437.50,180.08 438.50,180.18 C439.50,180.28 440.50,180.38 441.50,180.48 C442.50,180.57 443.50,180.67 444.50,180.77 C445.50,180.86 446.50,180.95 447.50,181.05 C448.50,181.14 449.50,181.23 450.50,181.33 C451.50,181.42 452.50,181.51 453.50,181.60 C454.50,181.69 455.50,181.78 456.50,181.86 C457.50,181.95 458.50,182.04 459.50,182.13 C460.50,182.21 461.50,182.30 462.50,182.38 C463.50,182.47 464.50,182.55 465.50,182.63 C466.50,182.72 467.50,182.80 468.50,182.88 C469.50,182.96 470.50,183.04 471.50,183.12 C472.50,183.20 473.50,183.28 474.50,183.36 C475.50,183.44 476.50,183.51 477.50,183.59 C478.50,183.67 479.50,183.74 480.50,183.82 C481.50,183.89 482.50,183.96 483.50,184.04 C484.50,184.11 485.50,184.18 486.50,184.25 C487.50,184.32 488.85,184.42 489.50,184.46 C490.15,184.51 490.25,184.52 490.40,184.53 " fill="none" stroke="#000" stroke-width="2.5"/>
</g>
<line x1="71.50" y1="176.50" x2="490.50" y2="176.50" stroke="#000" stroke-width="0.8"/>
<line x1="71.00" y1="14.00" x2="491.00" y2="14.00" stroke="#3a3a3a" stroke-width="1"/>
<line x1="71.00" y1="284.85" x2="491.00" y2="284.85" stroke="#3a3a3a" stroke-width="1.05"/>
<line x1="71.50" y1="14.00" x2="71.50" y2="284.85" stroke="#4a4a4a" stroke-width="1.1"/>
<line x1="490.50" y1="14.00" x2="490.50" y2="284.85" stroke="#4a4a4a" stroke-width="1.1"/>
<line x1="61.50" y1="284.98" x2="71.50" y2="284.98" stroke="#4a4a4a" stroke-width="1.1"/>
<text x="58.6" y="291.08" font-size="18" text-anchor="end">4</text>
<line x1="39.2" y1="286.18" x2="48.5" y2="286.18" stroke="#111" stroke-width="1.3"/>
<line x1="66.50" y1="257.86" x2="71.50" y2="257.86" stroke="#4a4a4a" stroke-width="1.1"/>
<line x1="61.50" y1="230.74" x2="71.50" y2="230.74" stroke="#4a4a4a" stroke-width="1.1"/>
<text x="58.6" y="236.84" font-size="18" text-anchor="end">2</text>
<line x1="39.2" y1="231.94" x2="48.5" y2="231.94" stroke="#111" stroke-width="1.3"/>
<line x1="66.50" y1="203.62" x2="71.50" y2="203.62" stroke="#4a4a4a" stroke-width="1.1"/>
<line x1="61.50" y1="176.50" x2="71.50" y2="176.50" stroke="#4a4a4a" stroke-width="1.1"/>
<text x="58.6" y="182.60" font-size="18" text-anchor="end">0</text>
<line x1="66.50" y1="149.38" x2="71.50" y2="149.38" stroke="#4a4a4a" stroke-width="1.1"/>
<line x1="61.50" y1="122.26" x2="71.50" y2="122.26" stroke="#4a4a4a" stroke-width="1.1"/>
<text x="58.6" y="128.36" font-size="18" text-anchor="end">2</text>
<line x1="66.50" y1="95.14" x2="71.50" y2="95.14" stroke="#4a4a4a" stroke-width="1.1"/>
<line x1="61.50" y1="68.02" x2="71.50" y2="68.02" stroke="#4a4a4a" stroke-width="1.1"/>
<text x="58.6" y="74.12" font-size="18" text-anchor="end">4</text>
<line x1="66.50" y1="40.90" x2="71.50" y2="40.90" stroke="#4a4a4a" stroke-width="1.1"/>
<line x1="61.50" y1="13.78" x2="71.50" y2="13.78" stroke="#4a4a4a" stroke-width="1.1"/>
<text x="58.6" y="19.88" font-size="18" text-anchor="end">6</text>
<line x1="75.50" y1="284.85" x2="75.50" y2="294.50" stroke="#4a4a4a" stroke-width="1.1"/>
<text x="75.50" y="310.7" font-size="18" text-anchor="middle">0</text>
<line x1="89.11" y1="284.85" x2="89.11" y2="290.00" stroke="#4a4a4a" stroke-width="1.1"/>
<line x1="102.73" y1="284.85" x2="102.73" y2="290.00" stroke="#4a4a4a" stroke-width="1.1"/>
<line x1="116.34" y1="284.85" x2="116.34" y2="290.00" stroke="#4a4a4a" stroke-width="1.1"/>
<line x1="129.96" y1="284.85" x2="129.96" y2="290.00" stroke="#4a4a4a" stroke-width="1.1"/>
<line x1="143.57" y1="284.85" x2="143.57" y2="290.00" stroke="#4a4a4a" stroke-width="1.1"/>
<line x1="157.19" y1="284.85" x2="157.19" y2="290.00" stroke="#4a4a4a" stroke-width="1.1"/>
<line x1="170.81" y1="284.85" x2="170.81" y2="290.00" stroke="#4a4a4a" stroke-width="1.1"/>
<line x1="184.42" y1="284.85" x2="184.42" y2="290.00" stroke="#4a4a4a" stroke-width="1.1"/>
<line x1="198.03" y1="284.85" x2="198.03" y2="290.00" stroke="#4a4a4a" stroke-width="1.1"/>
<line x1="211.65" y1="284.85" x2="211.65" y2="294.50" stroke="#4a4a4a" stroke-width="1.1"/>
<text x="211.65" y="310.7" font-size="18" text-anchor="middle">0.1</text>
<line x1="225.27" y1="284.85" x2="225.27" y2="290.00" stroke="#4a4a4a" stroke-width="1.1"/>
<line x1="238.88" y1="284.85" x2="238.88" y2="290.00" stroke="#4a4a4a" stroke-width="1.1"/>
<line x1="252.50" y1="284.85" x2="252.50" y2="290.00" stroke="#4a4a4a" stroke-width="1.1"/>
<line x1="266.11" y1="284.85" x2="266.11" y2="290.00" stroke="#4a4a4a" stroke-width="1.1"/>
<line x1="279.73" y1="284.85" x2="279.73" y2="290.00" stroke="#4a4a4a" stroke-width="1.1"/>
<line x1="293.34" y1="284.85" x2="293.34" y2="290.00" stroke="#4a4a4a" stroke-width="1.1"/>
<line x1="306.96" y1="284.85" x2="306.96" y2="290.00" stroke="#4a4a4a" stroke-width="1.1"/>
<line x1="320.57" y1="284.85" x2="320.57" y2="290.00" stroke="#4a4a4a" stroke-width="1.1"/>
<line x1="334.19" y1="284.85" x2="334.19" y2="290.00" stroke="#4a4a4a" stroke-width="1.1"/>
<line x1="347.80" y1="284.85" x2="347.80" y2="294.50" stroke="#4a4a4a" stroke-width="1.1"/>
<text x="347.80" y="310.7" font-size="18" text-anchor="middle">0.2</text>
<line x1="361.42" y1="284.85" x2="361.42" y2="290.00" stroke="#4a4a4a" stroke-width="1.1"/>
<line x1="375.03" y1="284.85" x2="375.03" y2="290.00" stroke="#4a4a4a" stroke-width="1.1"/>
<line x1="388.64" y1="284.85" x2="388.64" y2="290.00" stroke="#4a4a4a" stroke-width="1.1"/>
<line x1="402.26" y1="284.85" x2="402.26" y2="290.00" stroke="#4a4a4a" stroke-width="1.1"/>
<line x1="415.88" y1="284.85" x2="415.88" y2="290.00" stroke="#4a4a4a" stroke-width="1.1"/>
<line x1="429.49" y1="284.85" x2="429.49" y2="290.00" stroke="#4a4a4a" stroke-width="1.1"/>
<line x1="443.11" y1="284.85" x2="443.11" y2="290.00" stroke="#4a4a4a" stroke-width="1.1"/>
<line x1="456.72" y1="284.85" x2="456.72" y2="290.00" stroke="#4a4a4a" stroke-width="1.1"/>
<line x1="470.34" y1="284.85" x2="470.34" y2="290.00" stroke="#4a4a4a" stroke-width="1.1"/>
<line x1="483.95" y1="284.85" x2="483.95" y2="294.50" stroke="#4a4a4a" stroke-width="1.1"/>
<text x="483.95" y="310.7" font-size="18" text-anchor="middle">0.3</text>
<line x1="75.7" y1="97.9" x2="75.7" y2="119.7" stroke="#7a1a12" stroke-width="2"/>
<line x1="71.5" y1="97.9" x2="79.9" y2="97.9" stroke="#7a1a12" stroke-width="1.9"/>
<line x1="71.5" y1="119.7" x2="79.9" y2="119.7" stroke="#7a1a12" stroke-width="1.9"/>
<polygon points="75.70,103.50 77.05,107.44 81.22,107.51 77.89,110.01 79.11,113.99 75.70,111.60 72.29,113.99 73.51,110.01 70.18,107.51 74.35,107.44" fill="#5e1a10"/>
<rect x="305.9" y="25.8" width="36.3" height="7.9" fill="#e8e04a"/>
<line x1="306.1" y1="43.7" x2="342.1" y2="43.7" stroke="#e020c8" stroke-width="2.4" stroke-linecap="round" stroke-dasharray="9.6 4.6 0.1 4.6" stroke-dashoffset="5.8"/>
<line x1="306" y1="61.7" x2="342.1" y2="61.7" stroke="#10107c" stroke-width="2.4" stroke-dasharray="9.8 6" stroke-dashoffset="2.4"/>
<line x1="306" y1="79.5" x2="342.2" y2="79.5" stroke="#000" stroke-width="2.4"/>
<polygon points="324.40,92.10 325.72,95.98 329.82,96.04 326.54,98.50 327.75,102.41 324.40,100.05 321.05,102.41 322.26,98.50 318.98,96.04 323.08,95.98" fill="#5e1a10"/>
<text transform="translate(354.00,31.00) scale(1.062,1)" font-size="16">HBChPT</text>
<text transform="translate(354.00,48.70) scale(1.062,1)" font-size="16">BChPT</text>
<text transform="translate(354.00,66.30) scale(1.062,1)" font-size="16">BChPT with Δ FF</text>
<text transform="translate(354.00,83.90) scale(1.034,1)" font-size="16">empirical result</text>
<text transform="translate(354.00,101.50) scale(1.048,1)" font-size="16">β<tspan font-size="12.6" dy="4.2">M1</tspan><tspan dy="-4.2">, PDG 2016</tspan></text>
<text x="238.3" y="331.7" font-size="18">Q<tspan font-size="13" dy="-7.2">2</tspan><tspan dy="7.2" dx="13.6">(GeV</tspan><tspan font-size="13" dy="-7.2">2</tspan><tspan dy="7.2">)</tspan></text>
<text transform="translate(19.10,256.80) rotate(-90) scale(1.000,1)" font-size="18.00">T</text>
<text transform="translate(23.90,246.00) rotate(-90) scale(1.000,1)" font-size="13.00">1</text>
<text transform="translate(11.50,245.00) rotate(-90) scale(1.000,1)" font-size="13.00">NB</text>
<text transform="translate(19.10,227.20) rotate(-90) scale(1.000,1)" font-size="18.00">(0,</text>
<text transform="translate(19.10,208.50) rotate(-90) scale(1.000,1)" font-size="18.00">Q</text>
<text transform="translate(11.50,195.40) rotate(-90) scale(1.000,1)" font-size="13.00">2</text>
<text transform="translate(19.10,189.00) rotate(-90) scale(1.000,1)" font-size="18.00">)</text>
<text transform="translate(19.10,178.90) rotate(-90) scale(1.000,1)" font-size="18.00">/</text>
<text transform="translate(19.10,170.00) rotate(-90) scale(1.000,1)" font-size="18.00">Q</text>
<text transform="translate(11.50,155.70) rotate(-90) scale(1.000,1)" font-size="13.00">2</text>
<text transform="translate(19.10,131.20) rotate(-90) scale(1.000,1)" font-size="18.00">(10</text>
<text transform="translate(11.50,107.40) rotate(-90) scale(1.000,1)" font-size="13.00">-4</text>
<text transform="translate(19.10,87.60) rotate(-90) scale(1.000,1)" font-size="18.00">fm</text>
<text transform="translate(11.50,68.40) rotate(-90) scale(1.000,1)" font-size="13.00">3</text>
<text transform="translate(19.10,57.60) rotate(-90) scale(1.000,1)" font-size="18.00">)</text>
</svg></body></html>
